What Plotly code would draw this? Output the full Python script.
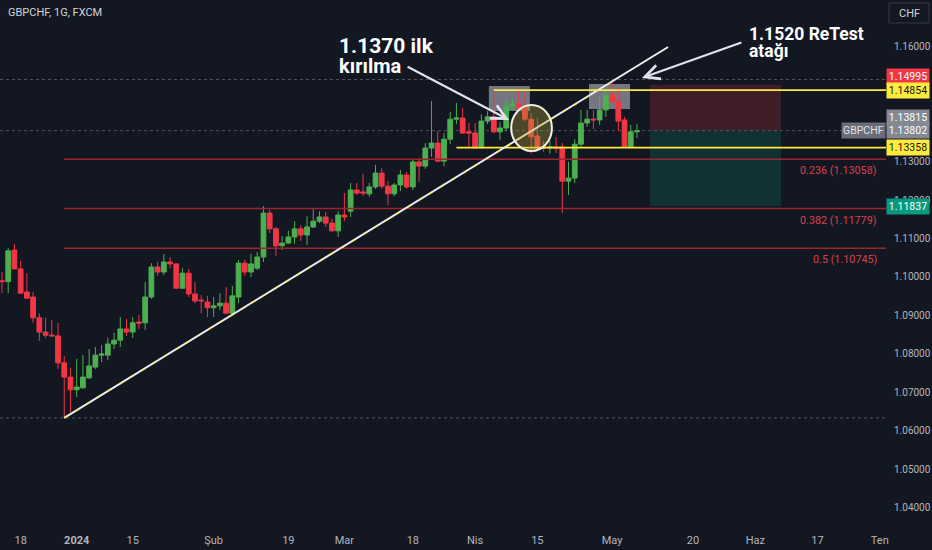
import pandas as pd
import plotly.graph_objects as go

# GBPCHF daily candles
holidays = ["2023-12-25", "2024-01-01"]
dates = [d.strftime("%Y-%m-%d") for d in pd.bdate_range("2023-12-13", "2024-05-07")
         if d.strftime("%Y-%m-%d") not in holidays]

open_ = [1.0990, 1.0988, 1.1070, 1.1021, 1.0961, 1.0948, 1.0894, 1.0857, 1.0849, 1.0847,
         1.0777, 1.0740, 1.0707, 1.0712, 1.0738, 1.0766, 1.0797, 1.0797, 1.0826, 1.0836,
         1.0865, 1.0857, 1.0883, 1.0881, 1.0948, 1.1026, 1.1013, 1.1039, 1.1034, 1.0971,
         1.1010, 1.0956, 1.0940, 1.0935, 1.0920, 1.0925, 1.0932, 1.0906, 1.0948, 1.1036,
         1.1013, 1.1023, 1.1052, 1.1166, 1.1125, 1.1081, 1.1088, 1.1104, 1.1125, 1.1109,
         1.1130, 1.1145, 1.1156, 1.1140, 1.1120, 1.1161, 1.1171, 1.1226, 1.1221, 1.1216,
         1.1234, 1.1270, 1.1236, 1.1216, 1.1239, 1.1265, 1.1234, 1.1299, 1.1288, 1.1335,
         1.1348, 1.1301, 1.1358, 1.1410, 1.1413, 1.1377, 1.1374, 1.1338, 1.1405, 1.1416,
         1.1377, 1.1387, 1.1444, 1.1449, 1.1442, 1.1410, 1.1366, 1.1338, 1.1335, 1.1338,
         1.1338, 1.1249, 1.1257, 1.1345, 1.1400, 1.1410, 1.1408, 1.1434, 1.1473, 1.1455,
         1.1408, 1.1338, 1.1377]
high = [1.1013, 1.1075, 1.1086, 1.1042, 1.1010, 1.0961, 1.0906, 1.0894, 1.0888, 1.0881,
        1.0795, 1.0764, 1.0787, 1.0797, 1.0813, 1.0818, 1.0823, 1.0842, 1.0855, 1.0896,
        1.0891, 1.0896, 1.0901, 1.0987, 1.1036, 1.1039, 1.1060, 1.1052, 1.1036, 1.1023,
        1.1021, 1.0987, 1.0953, 1.0951, 1.0948, 1.0958, 1.0974, 1.0977, 1.1044, 1.1044,
        1.1060, 1.1065, 1.1184, 1.1174, 1.1130, 1.1107, 1.1120, 1.1145, 1.1135, 1.1158,
        1.1177, 1.1171, 1.1169, 1.1151, 1.1171, 1.1218, 1.1244, 1.1244, 1.1268, 1.1244,
        1.1291, 1.1283, 1.1249, 1.1244, 1.1278, 1.1273, 1.1307, 1.1309, 1.1348, 1.1457,
        1.1379, 1.1374, 1.1429, 1.1452, 1.1439, 1.1400, 1.1400, 1.1423, 1.1431, 1.1483,
        1.1403, 1.1462, 1.1462, 1.1481, 1.1481, 1.1426, 1.1413, 1.1353, 1.1356, 1.1364,
        1.1348, 1.1299, 1.1358, 1.1434, 1.1434, 1.1434, 1.1470, 1.1491, 1.1512, 1.1491,
        1.1416, 1.1395, 1.1397]
low = [1.0958, 1.0958, 1.1020, 1.0957, 1.0944, 1.0881, 1.0834, 1.0842, 1.0846, 1.0761,
       1.0634, 1.0649, 1.0688, 1.0710, 1.0735, 1.0761, 1.0779, 1.0784, 1.0813, 1.0818,
       1.0847, 1.0842, 1.0865, 1.0862, 1.0943, 1.1003, 1.1005, 1.1023, 1.0970, 1.0970,
       1.0948, 1.0932, 1.0906, 1.0896, 1.0896, 1.0914, 1.0905, 1.0901, 1.0932, 1.1003,
       1.1000, 1.1018, 1.1039, 1.1114, 1.1055, 1.1070, 1.1086, 1.1086, 1.1094, 1.1083,
       1.1127, 1.1140, 1.1130, 1.1117, 1.1104, 1.1145, 1.1156, 1.1213, 1.1210, 1.1208,
       1.1229, 1.1229, 1.1187, 1.1210, 1.1223, 1.1229, 1.1226, 1.1247, 1.1281, 1.1312,
       1.1299, 1.1288, 1.1345, 1.1397, 1.1373, 1.1338, 1.1333, 1.1333, 1.1397, 1.1374,
       1.1356, 1.1379, 1.1436, 1.1436, 1.1405, 1.1320, 1.1330, 1.1325, 1.1320, 1.1322,
       1.1166, 1.1213, 1.1244, 1.1338, 1.1390, 1.1384, 1.1395, 1.1416, 1.1452, 1.1379,
       1.1335, 1.1335, 1.1361]
close = [1.0988, 1.1068, 1.1021, 1.0958, 1.0945, 1.0894, 1.0857, 1.0849, 1.0847, 1.0777,
         1.0740, 1.0707, 1.0714, 1.0740, 1.0769, 1.0797, 1.0800, 1.0826, 1.0836, 1.0865,
         1.0857, 1.0881, 1.0880, 1.0948, 1.1026, 1.1013, 1.1039, 1.1034, 1.0971, 1.1010,
         1.0956, 1.0938, 1.0938, 1.0920, 1.0925, 1.0932, 1.0906, 1.0951, 1.1036, 1.1013,
         1.1034, 1.1052, 1.1166, 1.1125, 1.1081, 1.1088, 1.1104, 1.1125, 1.1109, 1.1130,
         1.1145, 1.1156, 1.1140, 1.1120, 1.1161, 1.1156, 1.1226, 1.1218, 1.1218, 1.1234,
         1.1270, 1.1236, 1.1216, 1.1239, 1.1265, 1.1234, 1.1299, 1.1288, 1.1335, 1.1348,
         1.1301, 1.1358, 1.1410, 1.1413, 1.1374, 1.1374, 1.1335, 1.1405, 1.1416, 1.1377,
         1.1387, 1.1444, 1.1449, 1.1442, 1.1410, 1.1364, 1.1335, 1.1335, 1.1338, 1.1335,
         1.1249, 1.1257, 1.1345, 1.1400, 1.1410, 1.1408, 1.1434, 1.1473, 1.1455, 1.1405,
         1.1338, 1.1377, 1.1380]

tick_dates = ["2023-12-18", "2024-01-02", "2024-01-15", "2024-02-01", "2024-02-19",
              "2024-03-01", "2024-03-18", "2024-04-01", "2024-04-15", "2024-05-01",
              "2024-05-20", "2024-06-03", "2024-06-17", "2024-07-01"]
tick_text = ["18", "<b>2024</b>", "15", "Şub", "19", "Mar", "18", "Nis", "15", "May",
             "20", "Haz", "17", "Ten"]
# 1.14 and 1.15 sit under the price tags in the screenshot, so they are not shown
price_ticks = [1.04, 1.05, 1.06, 1.07, 1.08, 1.09, 1.10, 1.11, 1.12, 1.13, 1.16]

fib_levels = [0.236, 0.382, 0.5]
fib_prices = [1.13058, 1.11779, 1.10745]
fib_start = "2023-12-28"

swing_low = 1.0634
range_high = 1.1513
last_price = 1.13802
stop_price = 1.14995
target_price = 1.11837
resistance = 1.14854
support = 1.13358

BG = "#131722"
GREEN = "#4caf50"
RED = "#f23645"
YELLOW = "#ffeb3b"
TEXT = "#b2b5be"
FONT = "Roboto"
x_end = "2024-07-02"

fig = go.Figure(go.Candlestick(
    x=dates, open=open_, high=high, low=low, close=close,
    increasing=dict(line=dict(color=GREEN, width=1), fillcolor=GREEN),
    decreasing=dict(line=dict(color=RED, width=1), fillcolor=RED),
    whiskerwidth=0, hoverinfo="skip", showlegend=False,
))

shapes = []
# dotted high / low / last price lines
for p in [range_high, swing_low, last_price]:
    shapes.append(dict(type="line", xref="paper", x0=0, x1=1, yref="y", y0=p, y1=p,
                       line=dict(color="#50535e", width=1, dash="dot"), layer="below"))

# long position tool
shapes.append(dict(type="rect", xref="x", yref="y", x0="2024-05-09 02:00", x1="2024-06-07 03:00",
                   y0=last_price, y1=stop_price, fillcolor="rgba(242,54,69,0.2)",
                   line=dict(width=0), layer="below"))
shapes.append(dict(type="rect", xref="x", yref="y", x0="2024-05-09 02:00", x1="2024-06-07 03:00",
                   y0=target_price, y1=last_price, fillcolor="rgba(8,153,129,0.2)",
                   line=dict(width=0), layer="below"))

# grey boxes on the two tops
shapes.append(dict(type="rect", xref="x", yref="y", x0="2024-04-03 05:00", x1="2024-04-11 19:00",
                   y0=1.14312, y1=1.14961, fillcolor="rgba(149,152,161,0.75)",
                   line=dict(width=0), layer="below"))
shapes.append(dict(type="rect", xref="x", yref="y", x0="2024-04-25 07:00", x1="2024-05-03 21:00",
                   y0=1.14364, y1=1.15013, fillcolor="rgba(149,152,161,0.75)",
                   line=dict(width=0), layer="below"))

# fibonacci levels
for p in fib_prices:
    shapes.append(dict(type="line", xref="x", yref="y", x0=fib_start, x1=x_end, y0=p, y1=p,
                       line=dict(color="#9c2530", width=1.6)))

# yellow range lines
shapes.append(dict(type="line", xref="x", yref="y", x0="2024-04-04", x1=x_end,
                   y0=resistance, y1=resistance, line=dict(color=YELLOW, width=1.8)))
shapes.append(dict(type="line", xref="x", yref="y", x0="2024-03-27", x1=x_end,
                   y0=support, y1=support, line=dict(color=YELLOW, width=1.8)))

# trend line
shapes.append(dict(type="line", xref="x", yref="y", x0="2023-12-28", y0=swing_low,
                   x1="2024-05-14", y1=1.15974, line=dict(color="#eeeeee", width=2)))
shapes.append(dict(type="line", xref="x", yref="y", x0="2023-12-28", y0=swing_low,
                   x1="2024-05-01", y1=1.15073, line=dict(color=YELLOW, width=1.4, dash="3px,10px")))

# circle on the break
shapes.append(dict(type="circle", xref="x", yref="y", x0="2024-04-08 19:00", x1="2024-04-17 08:00",
                   y0=1.13273, y1=1.14468, fillcolor="rgba(179,163,51,0.35)",
                   line=dict(color="#f0efe0", width=2)))

# CHF button
shapes.append(dict(type="rect", xref="paper", yref="paper", x0=1.0034, x1=1.0485,
                   y0=0.9562, y1=0.9943, line=dict(color="#363a45", width=1)))

annotations = []
for lvl, p in zip(fib_levels, fib_prices):
    annotations.append(dict(xref="paper", yref="y", x=1, y=p, xanchor="right", yanchor="top",
                            xshift=-7, yshift=-3, showarrow=False,
                            text=f"{lvl} ({p:.5f})",
                            font=dict(family=FONT, size=10.8, color="#d8404c")))

tags = [
    (stop_price, RED, "#ffffff", 8),
    (resistance, YELLOW, BG, 0),
    (1.13815, "#868993", "#ffffff", 13),
    (last_price, "#868993", "#ffffff", 0),
    (support, YELLOW, BG, 0),
    (target_price, "#089981", "#ffffff", 0),
]
for p, bg, fg, shift in tags:
    annotations.append(dict(xref="paper", yref="y", x=1, y=p, xanchor="left", yanchor="middle",
                            yshift=shift, showarrow=False, text=f"{p:.5f}", bgcolor=bg,
                            width=40, borderpad=1,
                            font=dict(family=FONT, size=10.5, color=fg)))
annotations.append(dict(xref="paper", yref="y", x=1, y=last_price, xanchor="right",
                        yanchor="middle", showarrow=False, text="GBPCHF", bgcolor="#6a6d78",
                        borderpad=1, font=dict(family=FONT, size=10.5, color="#e0e3eb")))

annotations.append(dict(xref="paper", yref="paper", x=1.026, y=0.9752, xanchor="center",
                        yanchor="middle", showarrow=False,
                        text="CHF", font=dict(family=FONT, size=11, color="#d1d4dc")))
annotations.append(dict(xref="paper", yref="paper", x=0.0068, y=0.976, xanchor="left",
                        yanchor="middle", showarrow=False, text="GBPCHF, 1G, FXCM",
                        font=dict(family=FONT, size=11, color="#d1d4dc")))

# drawing texts
big = dict(family=FONT, color="#ffffff")
annotations.append(dict(xref="paper", yref="paper", x=0.3804, y=0.913, xanchor="left",
                        yanchor="middle", showarrow=False, text="<b>1.1370 ilk</b>",
                        font=dict(big, size=21)))
annotations.append(dict(xref="paper", yref="paper", x=0.3804, y=0.874, xanchor="left",
                        yanchor="middle", showarrow=False, text="<b>kırılma</b>",
                        font=dict(big, size=20)))
annotations.append(dict(xref="paper", yref="paper", x=0.8431, y=0.936, xanchor="left",
                        yanchor="middle", showarrow=False, text="<b>1.1520 ReTest</b>",
                        font=dict(big, size=17.5)))
annotations.append(dict(xref="paper", yref="paper", x=0.8431, y=0.902, xanchor="left",
                        yanchor="middle", showarrow=False, text="<b>atağı</b>",
                        font=dict(big, size=17.5)))

# arrows
annotations.append(dict(xref="x", yref="y", x="2024-04-08 11:00", y=1.14078, ax=-103, ay=-54,
                        text="", showarrow=True, arrowhead=5, arrowsize=1.3, arrowwidth=2.2,
                        arrowcolor="#e0e3eb", standoff=0, startstandoff=0))
annotations.append(dict(xref="x", yref="y", x="2024-05-07 19:00", y=1.15169, ax=101, ay=-36,
                        text="", showarrow=True, arrowhead=5, arrowsize=1.3, arrowwidth=2.2,
                        arrowcolor="#e0e3eb", standoff=0, startstandoff=0))

fig.update_layout(
    width=932, height=550,
    margin=dict(l=0, r=46, t=0, b=25),
    paper_bgcolor=BG, plot_bgcolor=BG,
    boxgap=0.15, boxgroupgap=0.1,
    shapes=shapes, annotations=annotations,
    showlegend=False,
    xaxis=dict(
        type="date", range=["2023-12-12 16:20", x_end],
        rangebreaks=[dict(bounds=["sat", "mon"]), dict(values=holidays)],
        rangeslider=dict(visible=False),
        tickvals=tick_dates, ticktext=tick_text, ticks="", ticklabelstandoff=7,
        tickfont=dict(family=FONT, size=11, color=TEXT),
        showgrid=False, zeroline=False, showline=False,
    ),
    yaxis=dict(
        side="right", range=[1.03558, 1.17195],
        tickvals=price_ticks, tickformat=".5f", ticks="", ticklabelstandoff=7,
        tickfont=dict(family=FONT, size=10, color=TEXT),
        showgrid=False, zeroline=False, showline=False,
    ),
)

# the page body has a default 8px margin; drop it so the chart sits at the window corner
fig.write_html("out.html", config={"displayModeBar": False},
               post_script="document.body.style.margin='0';"
                           "document.body.style.background='#131722';")
